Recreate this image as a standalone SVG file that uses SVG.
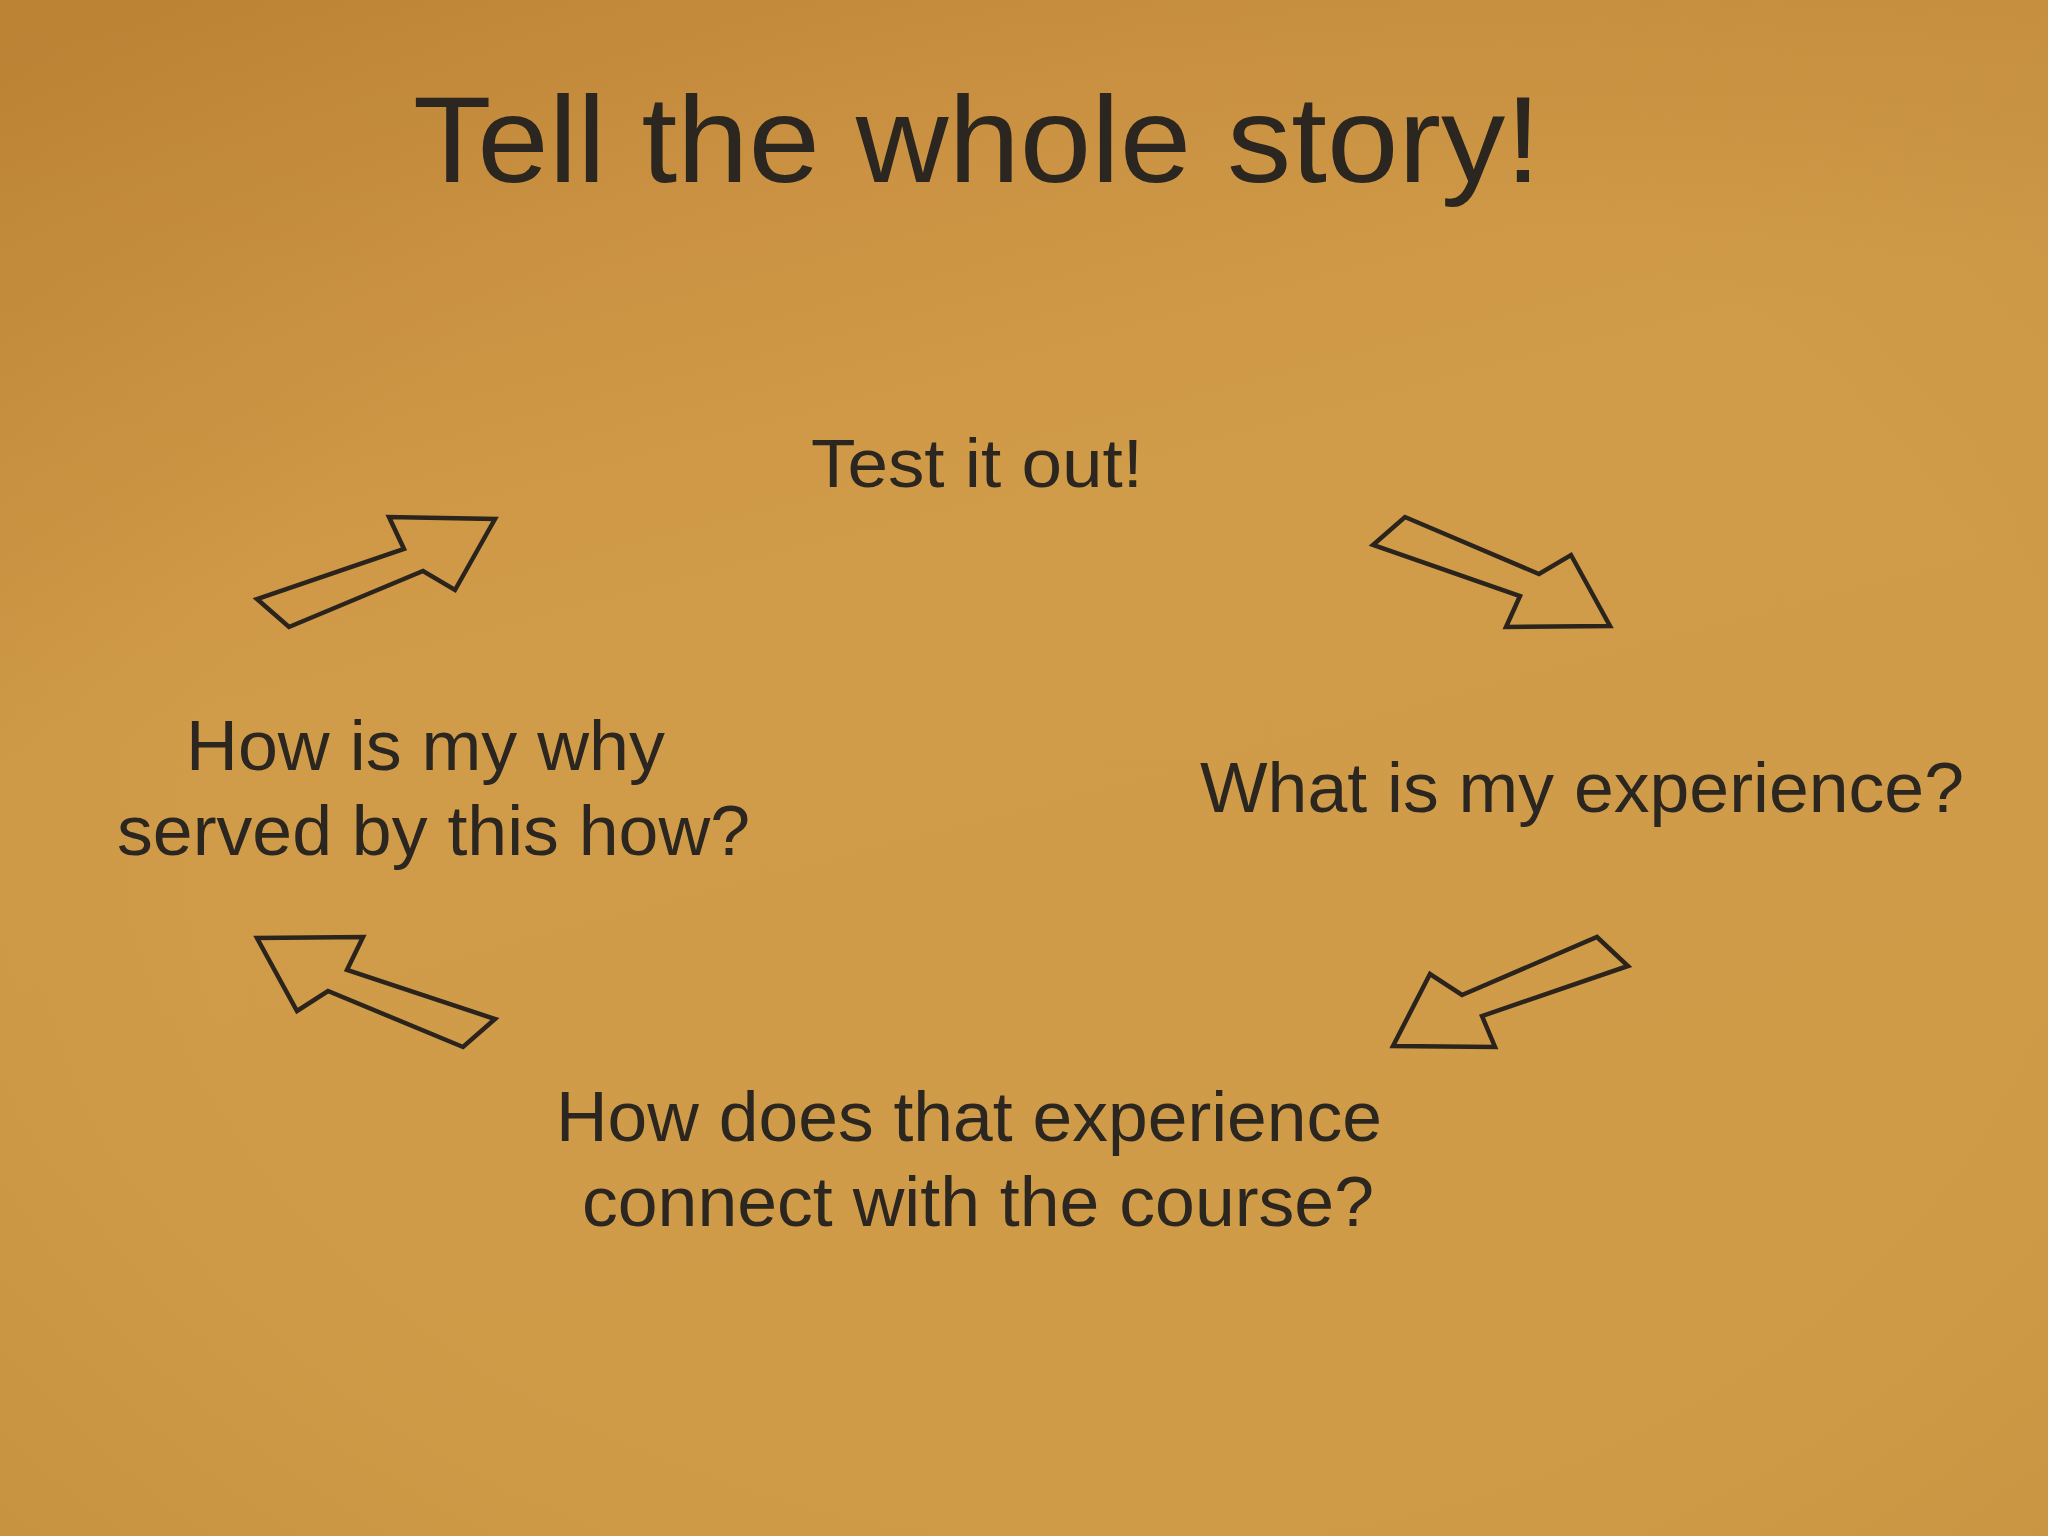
<svg xmlns="http://www.w3.org/2000/svg" width="2048" height="1536" viewBox="0 0 2048 1536">
  <defs>
    <linearGradient id="paper" x1="0" y1="0" x2="0.35" y2="1">
      <stop offset="0" stop-color="#c3883a"/>
      <stop offset="0.45" stop-color="#d19c4a"/>
      <stop offset="1" stop-color="#d09b47"/>
    </linearGradient>
    <radialGradient id="vignette" cx="0.55" cy="0.55" r="0.75">
      <stop offset="0.6" stop-color="#8a5a10" stop-opacity="0"/>
      <stop offset="1" stop-color="#8a5a10" stop-opacity="0.14"/>
    </radialGradient>
    <style>
      .t { font-family: "Liberation Sans", Arial, sans-serif; fill: #2b261f; }
      .label { font-size: 70px; }
      .arrow { fill: none; stroke: #2a241c; stroke-width: 4.5; stroke-linejoin: miter; }
    </style>
  </defs>
  <rect x="0" y="0" width="2048" height="1536" fill="url(#paper)"/>
  <rect x="0" y="0" width="2048" height="1536" fill="url(#vignette)"/>

  <g id="title">
    <text class="t" x="413" y="182" font-size="122" textLength="1128" lengthAdjust="spacingAndGlyphs">Tell the whole story!</text>
  </g>

  <g id="node-test">
    <text class="t" x="811" y="487" font-size="68" textLength="332" lengthAdjust="spacingAndGlyphs">Test it out!</text>
  </g>

  <g id="node-experience">
    <text class="t label" x="1200" y="812" textLength="764" lengthAdjust="spacingAndGlyphs">What is my experience?</text>
  </g>

  <g id="node-connect">
    <text class="t label" x="556" y="1141" textLength="826" lengthAdjust="spacingAndGlyphs">How does that experience</text>
    <text class="t label" x="582" y="1226" textLength="792" lengthAdjust="spacingAndGlyphs">connect with the course?</text>
  </g>

  <g id="node-why">
    <text class="t label" x="186" y="770" textLength="479" lengthAdjust="spacingAndGlyphs">How is my why</text>
    <text class="t label" x="117" y="855" textLength="633" lengthAdjust="spacingAndGlyphs">served by this how?</text>
  </g>

  <g id="connectors">
    <polygon class="arrow" points="257,599 289,627 423,571 455,590 495,519 389,517 404,549"/>
    <polygon class="arrow" points="1373,545 1405,517 1539,574 1571,555 1610,626 1506,627 1520,596"/>
    <polygon class="arrow" points="1597,937 1628,966 1482,1016 1495,1047 1393,1046 1430,974 1462,995"/>
    <polygon class="arrow" points="495,1019 463,1047 328,991 297,1011 257,938 363,937 347,970"/>
  </g>
</svg>
